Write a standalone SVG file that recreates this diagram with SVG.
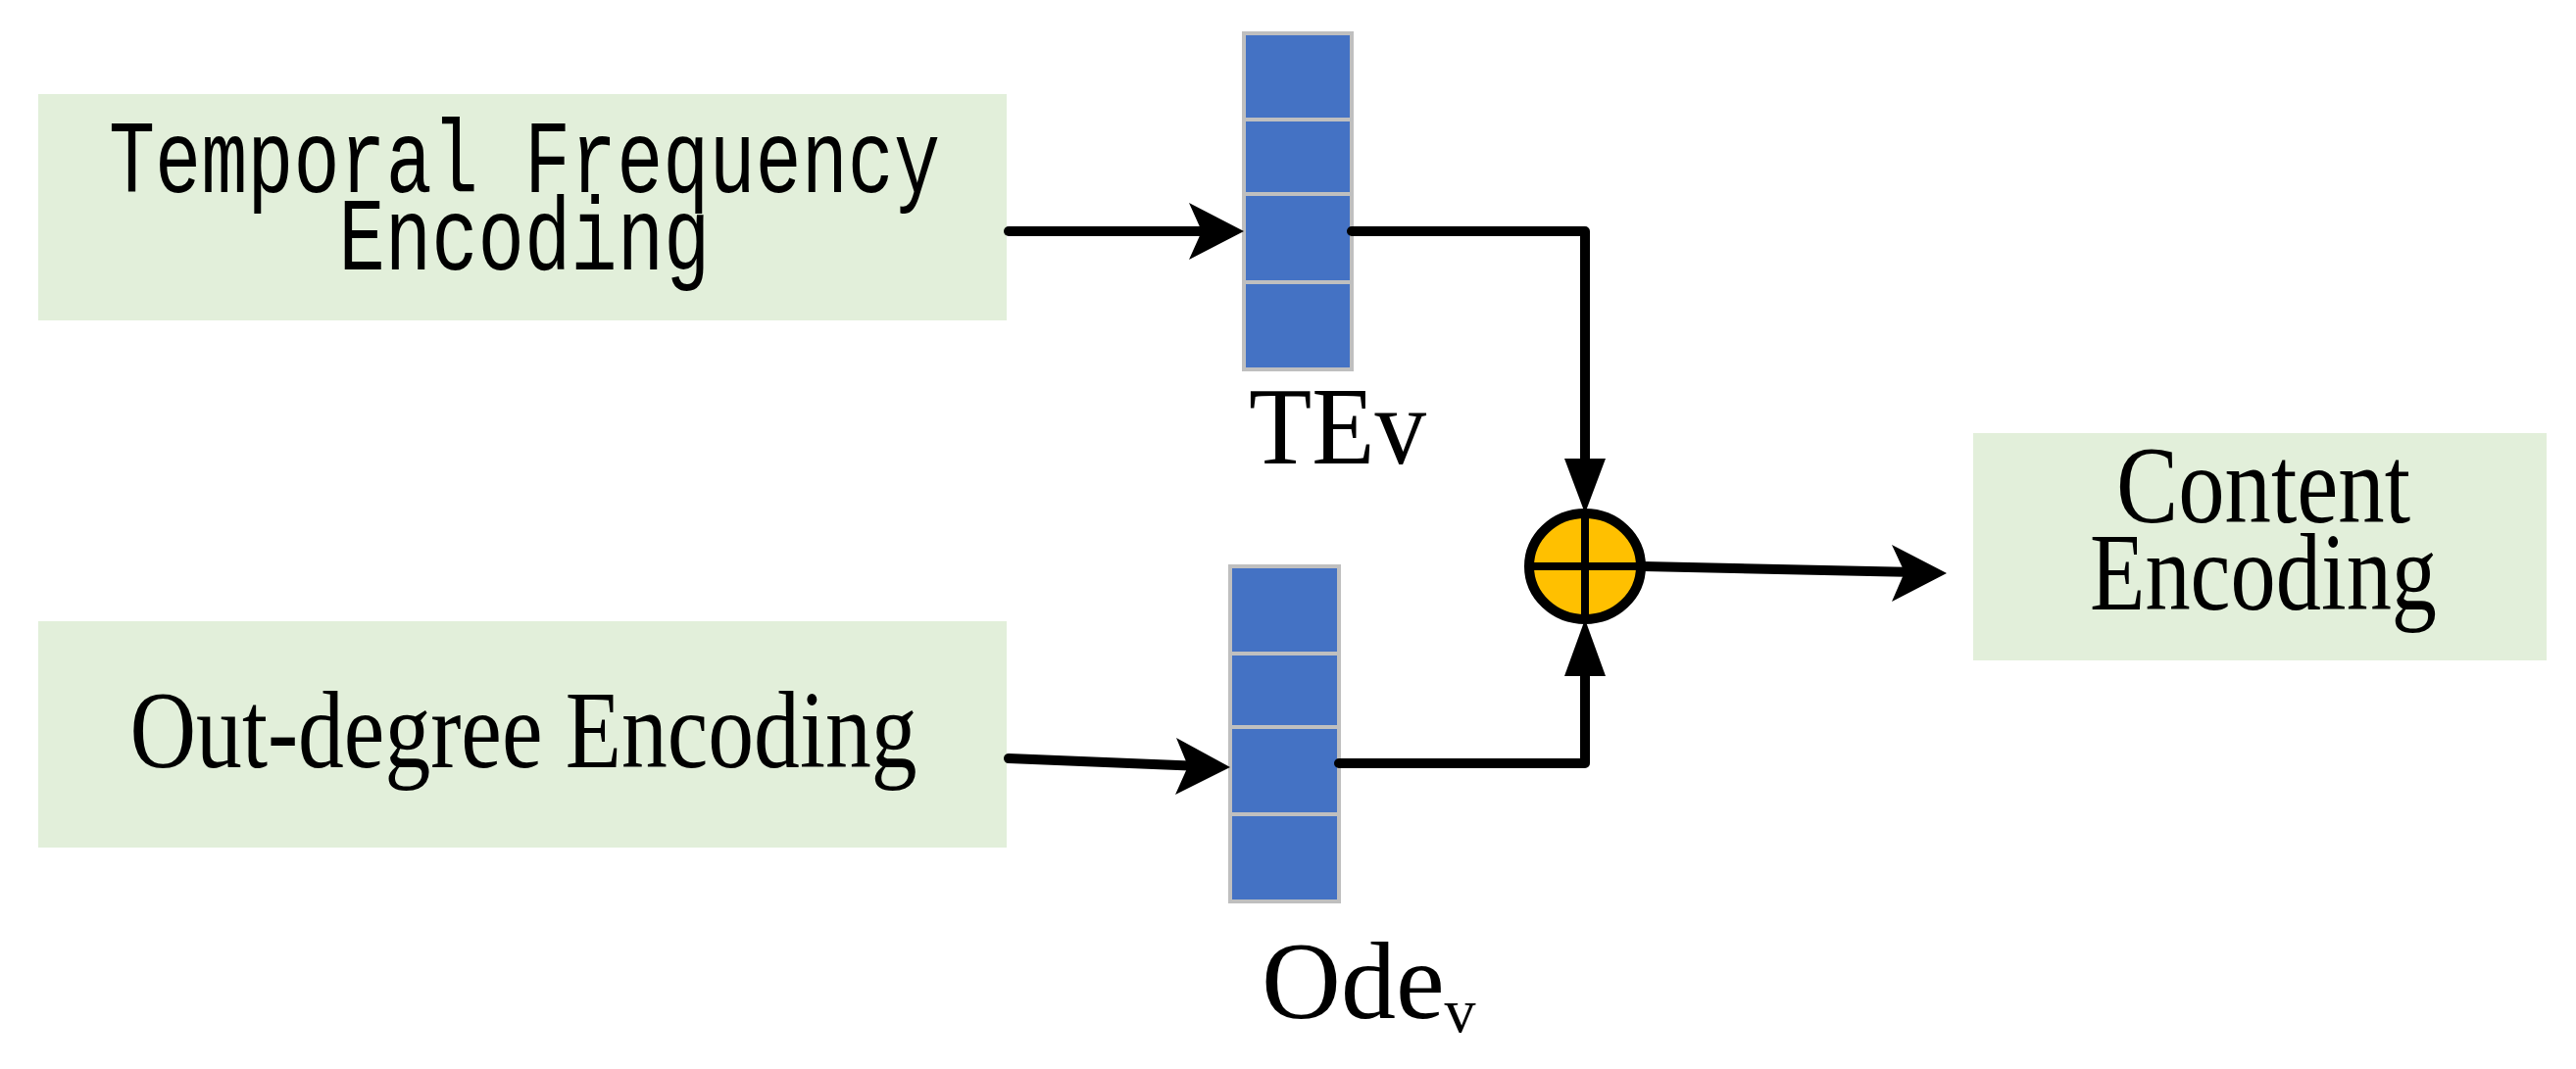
<svg xmlns="http://www.w3.org/2000/svg" width="2628" height="1091" viewBox="0 0 2628 1091">
<style>
.box{fill:#E2EFDA}
.cell{fill:#4472C4;stroke:#BFBFBF;stroke-width:4}
.ln{fill:none;stroke:#000;stroke-width:10;stroke-linecap:round;stroke-linejoin:round}
.ah{fill:#000}
.mono{font-family:"Liberation Mono",monospace;font-size:106px;fill:#000}
.ser{font-family:"Liberation Serif",serif;font-size:112px;fill:#000}
</style>
<rect width="2628" height="1091" fill="#fff"/>
<g id="temporal">
<rect class="box" x="39" y="96" width="988" height="231"/>
<text class="mono" x="535" y="196" text-anchor="middle" textLength="848" lengthAdjust="spacingAndGlyphs">Temporal Frequency</text>
<text class="mono" x="535" y="275" text-anchor="middle" textLength="379" lengthAdjust="spacingAndGlyphs">Encoding</text>
</g>
<g id="outdegree">
<rect class="box" x="39" y="634" width="988" height="231"/>
<text class="ser" x="534" y="783" text-anchor="middle" textLength="803" lengthAdjust="spacingAndGlyphs">Out-degree Encoding</text>
</g>
<g id="tev">
<rect class="cell" x="1269" y="34" width="110" height="88"/>
<rect class="cell" x="1269" y="122" width="110" height="76"/>
<rect class="cell" x="1269" y="198" width="110" height="90"/>
<rect class="cell" x="1269" y="288" width="110" height="89"/>
<text class="ser" x="1274" y="473" textLength="181" lengthAdjust="spacingAndGlyphs">TEv</text>
</g>
<g id="odev">
<rect class="cell" x="1255" y="578" width="111" height="89"/>
<rect class="cell" x="1255" y="667" width="111" height="75"/>
<rect class="cell" x="1255" y="742" width="111" height="89"/>
<rect class="cell" x="1255" y="831" width="111" height="89"/>
<text class="ser" x="1287" y="1039">Ode<tspan font-size="64" dy="14">v</tspan></text>
</g>
<g id="sum">
<ellipse cx="1617" cy="578" rx="57" ry="54" fill="#FFC000" stroke="#000" stroke-width="10"/>
<line x1="1560" y1="578" x2="1674" y2="578" stroke="#000" stroke-width="8"/>
<line x1="1617" y1="524" x2="1617" y2="632" stroke="#000" stroke-width="8"/>
</g>
<g id="content">
<rect class="box" x="2013" y="442" width="585" height="232"/>
<text class="ser" x="2309" y="533" text-anchor="middle" textLength="300" lengthAdjust="spacingAndGlyphs">Content</text>
<text class="ser" x="2309" y="622" text-anchor="middle" textLength="354" lengthAdjust="spacingAndGlyphs">Encoding</text>
</g>
<g id="connectors">
<path class="ln" d="M1029 236 H1240"/>
<polygon class="ah" points="1269,236 1213,207 1226,236 1213,265"/>
<path class="ln" d="M1029 774 L1226 782"/>
<polygon class="ah" points="1255,783 1200,753 1212,782 1199,811"/>
<path class="ln" d="M1379 236 H1617 V480"/>
<polygon class="ah" points="1617,524 1596,468 1638,468"/>
<path class="ln" d="M1366 779 H1617 V680"/>
<polygon class="ah" points="1617,632 1596,690 1638,690"/>
<path class="ln" d="M1676 578 L1955 584"/>
<polygon class="ah" points="1986,585 1930,556 1943,584 1930,614"/>
</g>
</svg>
